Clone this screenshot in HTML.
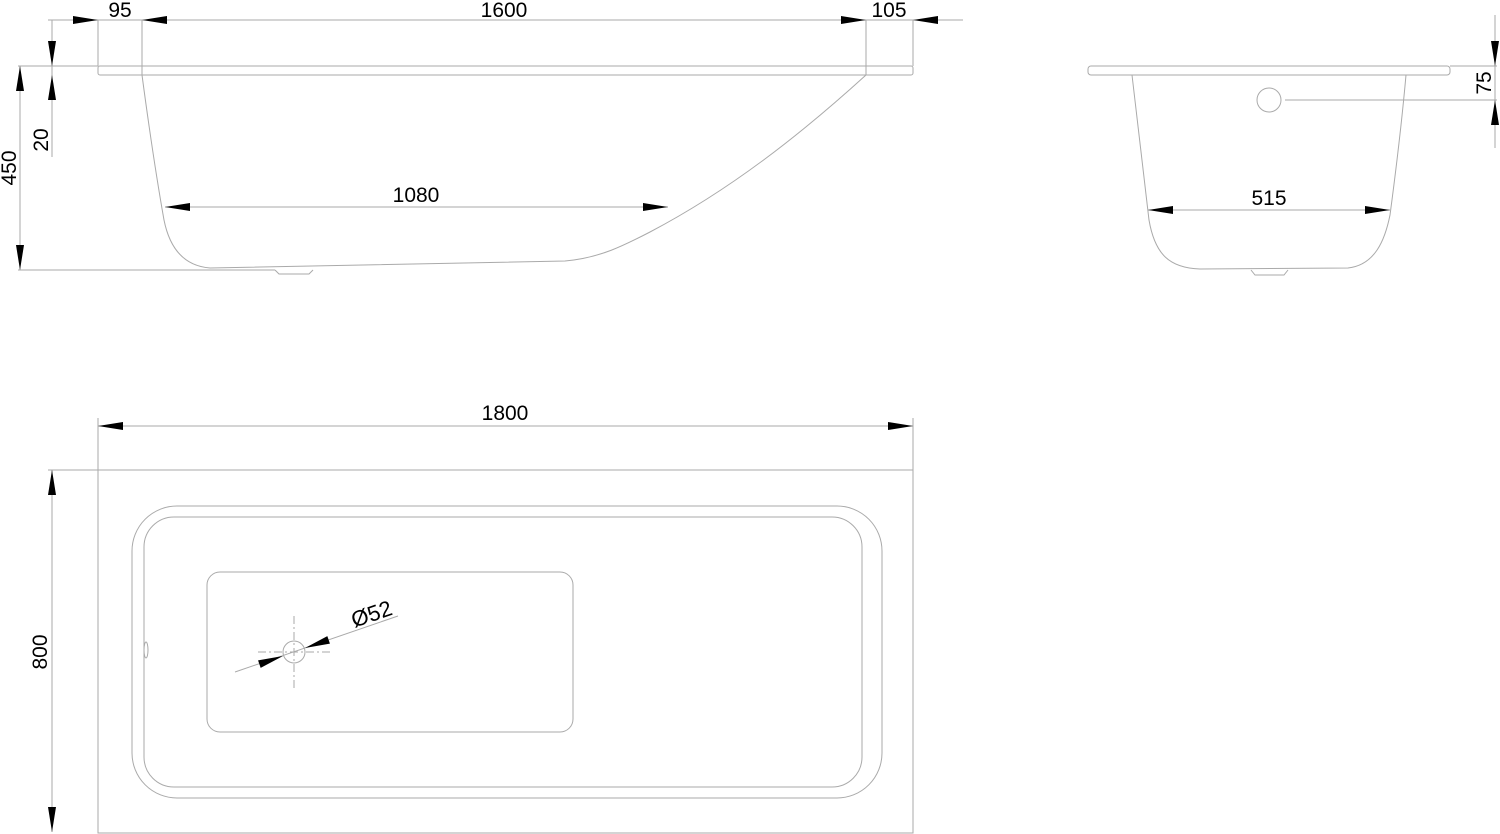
<!DOCTYPE html>
<html><head><style>body{margin:0;background:#fff}svg{display:block}text{font-family:"Liberation Sans",sans-serif;fill:#000;font-size:21px}</style></head><body>
<svg width="1500" height="834" viewBox="0 0 1500 834" xmlns="http://www.w3.org/2000/svg">
<defs>
<path id="ar" d="M0,0 L-25,-4 L-25,4 Z" fill="#000"/>
</defs>
<g stroke="#aaa" stroke-width="1" fill="none">
<line x1="48" y1="20" x2="963" y2="20"/>
<line x1="98" y1="20" x2="98" y2="66"/><line x1="142" y1="20" x2="142" y2="75"/>
<line x1="866" y1="20" x2="866" y2="75"/><line x1="913" y1="20" x2="913" y2="66"/>
<line x1="18" y1="66" x2="98" y2="66"/>
<rect x="98" y="66" width="815" height="9" rx="2"/>
<line x1="20" y1="66" x2="20" y2="270"/>
<line x1="52" y1="20" x2="52" y2="157"/>
<line x1="18" y1="270" x2="275" y2="270"/>
<path d="M142,75 C148,120 156,175 164,220 C170,250 185,266 210,268 L565,261 C600,258 625,245 650,232 C730,190 800,135 866,75"/>
<path d="M275,270 L279,274 L309,274 L313,270"/>
<line x1="165" y1="207" x2="668" y2="207"/>
<rect x="1088" y="66" width="362" height="9" rx="3"/>
<path d="M1132,75 C1138,130 1144,180 1149,220 C1155,255 1170,268 1200,269 L1348,268 C1375,265 1385,240 1390,215 C1396,170 1402,120 1406,75"/>
<path d="M1251,270 L1255,275 L1284,275 L1288,270"/>
<circle cx="1269" cy="100" r="12"/>
<line x1="1285" y1="100" x2="1497" y2="100"/>
<line x1="1450" y1="66" x2="1497" y2="66"/>
<line x1="1495" y1="15" x2="1495" y2="148"/>
<line x1="1148" y1="210" x2="1390" y2="210"/>
<rect x="98" y="470" width="815" height="363"/>
<line x1="98" y1="418" x2="98" y2="470"/><line x1="913" y1="418" x2="913" y2="470"/>
<line x1="98" y1="426" x2="913" y2="426"/>
<line x1="48" y1="470" x2="98" y2="470"/>
<line x1="52" y1="470" x2="52" y2="832"/>
<rect x="132" y="506" width="750" height="292" rx="45"/>
<rect x="144" y="517" width="718" height="270" rx="30"/>
<rect x="207" y="572" width="366" height="160" rx="13"/>
<circle cx="294" cy="652" r="11"/>
<ellipse cx="146" cy="650" rx="2" ry="8"/>
<line x1="235" y1="672" x2="398" y2="616"/>
<line x1="294" y1="616" x2="294" y2="688" stroke-dasharray="8,3,2,3"/>
<line x1="258" y1="652" x2="330" y2="652" stroke-dasharray="8,3,2,3"/>
</g>
<use href="#ar" transform="translate(98,20)"/>
<use href="#ar" transform="translate(142,20) rotate(180)"/>
<use href="#ar" transform="translate(866,20)"/>
<use href="#ar" transform="translate(913,20) rotate(180)"/>
<use href="#ar" transform="translate(52,66) rotate(90)"/>
<use href="#ar" transform="translate(52,75) rotate(-90)"/>
<use href="#ar" transform="translate(20,66) rotate(-90)"/>
<use href="#ar" transform="translate(20,270) rotate(90)"/>
<use href="#ar" transform="translate(165,207) rotate(180)"/>
<use href="#ar" transform="translate(668,207)"/>
<use href="#ar" transform="translate(1148,210) rotate(180)"/>
<use href="#ar" transform="translate(1390,210)"/>
<use href="#ar" transform="translate(1495,66) rotate(90)"/>
<use href="#ar" transform="translate(1495,100) rotate(-90)"/>
<use href="#ar" transform="translate(98,426) rotate(180)"/>
<use href="#ar" transform="translate(913,426)"/>
<use href="#ar" transform="translate(52,470) rotate(-90)"/>
<use href="#ar" transform="translate(52,832) rotate(90)"/>
<use href="#ar" transform="translate(283,656) rotate(-19)"/>
<use href="#ar" transform="translate(305,648) rotate(161)"/>
<text x="120" y="17" text-anchor="middle">95</text>
<text x="504" y="17" text-anchor="middle">1600</text>
<text x="889" y="17" text-anchor="middle">105</text>
<text x="416" y="202" text-anchor="middle">1080</text>
<text x="1269" y="205" text-anchor="middle">515</text>
<text x="505" y="420" text-anchor="middle">1800</text>
<text transform="translate(48,140) rotate(-90)" text-anchor="middle">20</text>
<text transform="translate(16,168) rotate(-90)" text-anchor="middle">450</text>
<text transform="translate(1491,83) rotate(-90)" text-anchor="middle">75</text>
<text transform="translate(47,652) rotate(-90)" text-anchor="middle">800</text>
<text transform="translate(374,621) rotate(-19)" text-anchor="middle" style="font-size:22px">Ø52</text>
</svg>
</body></html>
